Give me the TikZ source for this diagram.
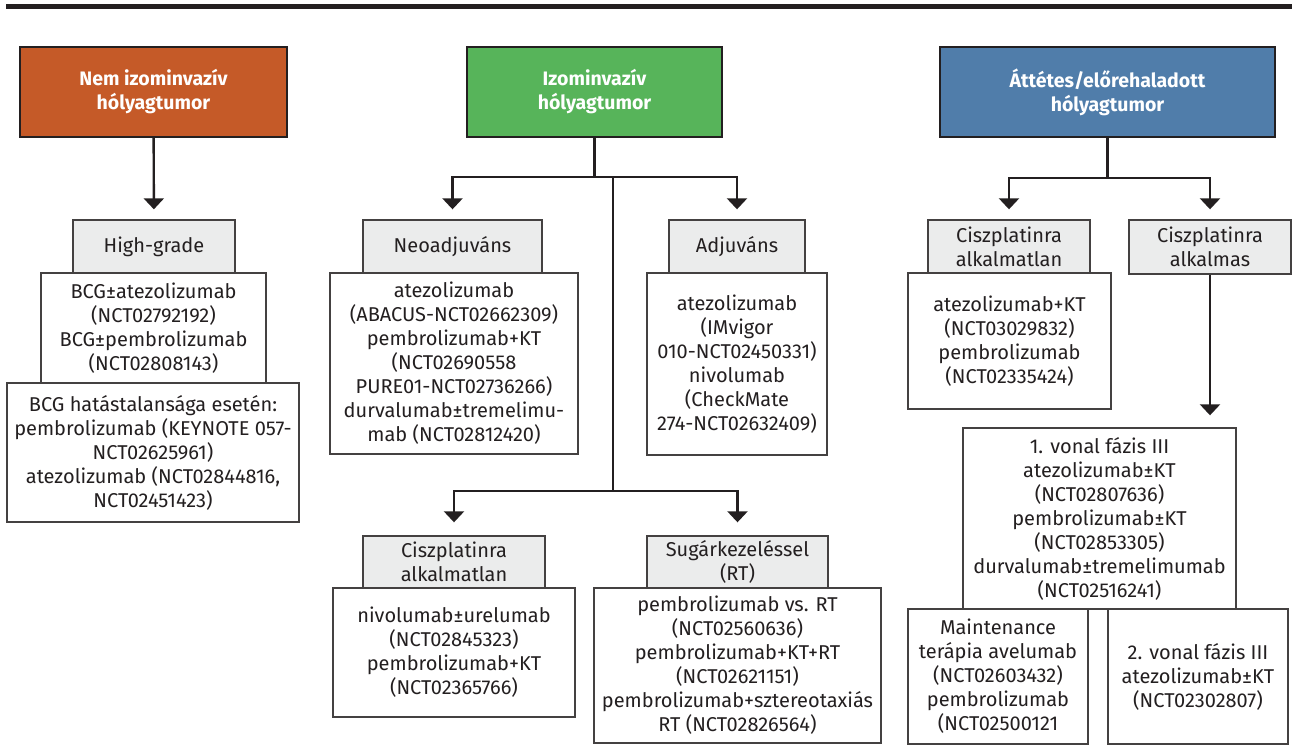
\documentclass[tikz,border=0pt]{standalone}
\usepackage{fontspec}
\setmainfont{Fira Sans}
\usetikzlibrary{arrows.meta}

\definecolor{nmibc}{HTML}{C55A28}
\definecolor{mibc}{HTML}{57B45A}
\definecolor{metas}{HTML}{507DAA}
\definecolor{taggray}{HTML}{EBECEC}
\definecolor{ink}{HTML}{231F20}

\newcommand{\bodyfont}{\fontsize{20}{24}\selectfont}
\newcommand{\headfont}{\fontsize{19.5}{24}\selectfont}

\tikzset{
  head/.style={draw=ink, line width=1.6pt, text=white, font=\bfseries\headfont,
    align=center, minimum height=90pt, inner sep=0pt},
  tag/.style={draw=ink!85, line width=1.4pt, fill=taggray, text=ink, font=\bodyfont,
    align=center, inner sep=0pt},
  trial/.style={draw=ink!85, line width=1.4pt, fill=white, text=ink, font=\bodyfont,
    align=center, inner sep=0pt},
  link/.style={draw=ink, line width=2.4pt},
  arr/.style={link, -{Triangle[width=20pt,length=11pt]}, shorten >=#1},
  arr/.default=10pt
}

\begin{document}
\begin{tikzpicture}[x=1pt, y=-1pt]
  % Canvas
  \fill[white] (0,0) rectangle (1292,745);
  \useasboundingbox (0,0) rectangle (1292,745);

  % Top rule
  \draw[ink, line width=5pt] (6,6.5) -- (1292,6.5);

  % Headers
  \node[head, fill=nmibc, minimum width=267pt] (nem) at (153.5,92) {Nem izominvazív\\hólyagtumor};
  \node[head, fill=mibc, minimum width=255pt] (izom) at (594.5,92) {Izominvazív\\hólyagtumor};
  \node[head, fill=metas, minimum width=335pt] (attet) at (1107.5,92) {Áttétes/előrehaladott\\hólyagtumor};

  % Trial boxes
  \node[trial, minimum width=225pt, minimum height=110pt] (bcga) at (153.5,328)
    {BCG±atezolizumab\\(NCT02792192)\\BCG±pembrolizumab\\(NCT02808143)};
  \node[trial, minimum width=292pt, minimum height=139pt] (bcgb) at (153,452.5)
    {BCG hatástalansága esetén:\\pembrolizumab (KEYNOTE 057-\\NCT02625961)\\atezolizumab (NCT02844816,\\NCT02451423)};
  \node[trial, minimum width=248pt, minimum height=181pt] (neoc) at (454,363.5)
    {atezolizumab\\(ABACUS-NCT02662309)\\pembrolizumab+KT\\(NCT02690558\\PURE01-NCT02736266)\\durvalumab±tremelimu-\\mab (NCT02812420)};
  \node[trial, minimum width=180pt, minimum height=182pt] (adjc) at (737,364)
    {atezolizumab\\(IMvigor\\010-NCT02450331)\\nivolumab\\(CheckMate\\274-NCT02632409)};
  \node[trial, minimum width=242pt, minimum height=129pt] (ciskc) at (454,652.5)
    {nivolumab±urelumab\\(NCT02845323)\\pembrolizumab+KT\\(NCT02365766)};
  \node[trial, minimum width=287pt, minimum height=155pt] (sugarc) at (737.5,665.5)
    {pembrolizumab vs. RT\\(NCT02560636)\\pembrolizumab+KT+RT\\(NCT02621151)\\pembrolizumab+sztereotaxiás\\RT (NCT02826564)};
  \node[trial, minimum width=203pt, minimum height=136pt] (cismc) at (1009.5,341)
    {atezolizumab+KT\\(NCT03029832)\\pembrolizumab\\(NCT02335424)};
  \node[trial, minimum width=273pt, minimum height=181pt] (vonal1) at (1099.5,518.5)
    {1. vonal fázis III\\atezolizumab±KT\\(NCT02807636)\\pembrolizumab±KT\\(NCT02853305)\\durvalumab±tremelimumab\\(NCT02516241)};
  \node[trial, minimum width=180pt, minimum height=135pt] (maint) at (998,676.5)
    {Maintenance\\terápia avelumab\\(NCT02603432)\\pembrolizumab\\(NCT02500121};
  \node[trial, minimum width=180pt, minimum height=135pt] (vonal2) at (1198,676.5)
    {2. vonal fázis III\\atezolizumab±KT\\(NCT02302807)};

  % Tags
  \node[tag, minimum width=162pt, minimum height=53pt] (high) at (154,246.5) {High-grade};
  \node[tag, minimum width=179pt, minimum height=53pt] (neo) at (452.5,246.5) {Neoadjuváns};
  \node[tag, minimum width=136pt, minimum height=53pt] (adj) at (737,246.5) {Adjuváns};
  \node[tag, minimum width=182pt, minimum height=52pt] (cisk) at (454,562) {Ciszplatinra\\alkalmatlan};
  \node[tag, minimum width=181pt, minimum height=52pt] (sugar) at (737.5,562) {Sugárkezeléssel\\(RT)};
  \node[tag, minimum width=162pt, minimum height=53pt] (cism) at (1009,246.5) {Ciszplatinra\\alkalmatlan};
  \node[tag, minimum width=162pt, minimum height=54pt] (cisok) at (1210,247) {Ciszplatinra\\alkalmas};

  % Branch points
  \coordinate (izsplit) at (594.5,177);
  \coordinate (izmid) at (613,177);
  \coordinate (izlow) at (613,491);
  \coordinate (atsplit) at (1107.5,178);

  % Connectors
  \draw[arr] (nem) -- (high);
  \draw[link] (izom) -- (izsplit);
  \foreach \t in {neo,adj}
    \draw[arr] (izsplit) -| (\t.north);
  \draw[link] (izmid) -- (izlow);
  \foreach \t in {cisk,sugar}
    \draw[arr=13pt] (izlow) -| (\t.north);
  \draw[link] (attet) -- (atsplit);
  \foreach \t in {cism,cisok}
    \draw[arr] (atsplit) -| (\t.north);
  \draw[arr=12pt] (cisok.south) -- (cisok.south |- vonal1.north);
\end{tikzpicture}
\end{document}
